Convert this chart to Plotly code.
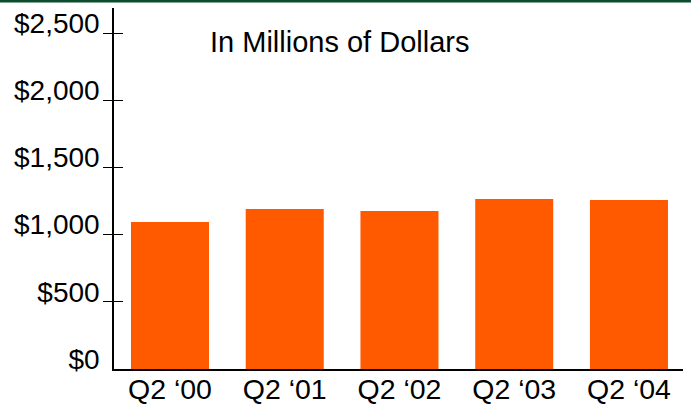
import plotly.graph_objects as go

categories = ["Q2 \u201800", "Q2 \u201801", "Q2 \u201802", "Q2 \u201803", "Q2 \u201804"]
revenue = [1094, 1190, 1176, 1265, 1257]
tick_values = [0, 500, 1000, 1500, 2000, 2500]
tick_labels = ["$0", "$500", "$1,000", "$1,500", "$2,000", "$2,500"]
mark_values = [500, 1000, 1500, 2000, 2500]

FONT = "Liberation Sans, Arial, sans-serif"
W, H = 691, 407
ML, MR, MT, MB = 114, 8, 8, 38
PW, PH = W - ML - MR, H - MT - MB
XR = [-0.488, 4.471]

fig = go.Figure()
fig.add_trace(go.Bar(x=categories, y=revenue, marker=dict(color="#FF5A00", line=dict(width=0)),
                     hoverinfo="x+y"))
fig.add_trace(go.Scatter(x=categories, y=revenue, yaxis="y2", mode="markers",
                         marker=dict(opacity=0), hoverinfo="skip", showlegend=False))
fig.add_trace(go.Scatter(x=categories, y=revenue, yaxis="y3", mode="markers",
                         marker=dict(opacity=0), hoverinfo="skip", showlegend=False))
fig.add_trace(go.Scatter(x=categories, y=revenue, xaxis="x2", mode="markers",
                         marker=dict(opacity=0), hoverinfo="skip", showlegend=False))

fig.update_layout(
    width=W, height=H,
    margin=dict(l=ML, r=MR, t=MT, b=MB, pad=0, autoexpand=False),
    paper_bgcolor="white", plot_bgcolor="white",
    showlegend=False,
    bargap=0.32,
    font=dict(family=FONT, size=28, color="black"),
    xaxis=dict(
        range=XR, showline=True, linecolor="black", linewidth=1.5,
        ticks="", showgrid=False, zeroline=False, automargin=False,
        showticklabels=False,
    ),
    # category labels on a line-less overlay axis
    xaxis2=dict(
        range=XR, overlaying="x", anchor="free", position=0, side="bottom",
        categoryorder="array", categoryarray=categories,
        showline=False, ticks="",
        showgrid=False, zeroline=False, automargin=False,
        tickfont=dict(family=FONT, size=28.5, color="black"),
    ),
    yaxis=dict(
        range=[0, 2686], showline=True, linecolor="black", linewidth=1.5,
        tickmode="array", tickvals=tick_values, ticktext=tick_labels,
        ticks="", showgrid=False, zeroline=False, automargin=False,
        ticklabelstandoff=7, ticklabelshift=-10,
        tickfont=dict(family=FONT, size=28, color="black"),
    ),
    yaxis2=dict(
        range=[0, 2686], overlaying="y", anchor="x", side="left",
        tickmode="array", tickvals=mark_values, showticklabels=False,
        ticks="outside", ticklen=10, tickwidth=1, tickcolor="black",
        showline=False, showgrid=False, zeroline=False, automargin=False,
    ),
    yaxis3=dict(
        range=[0, 2686], overlaying="y", anchor="x", side="left",
        tickmode="array", tickvals=mark_values, showticklabels=False,
        ticks="inside", ticklen=9, tickwidth=1, tickcolor="black",
        showline=False, showgrid=False, zeroline=False, automargin=False,
    ),
)

fig.add_annotation(
    text="In Millions of Dollars", xref="paper", yref="paper",
    x=(339.5 - ML) / PW, y=(H - MB - 42) / PH, xanchor="center", yanchor="middle",
    showarrow=False, font=dict(family=FONT, size=29, color="black"),
)

# dark green rule across the top
fig.add_shape(type="rect", xref="paper", yref="paper",
              x0=-ML / PW, x1=1 + MR / PW,
              y0=1 + (MT - 2.5) / PH, y1=1 + MT / PH,
              fillcolor="#0B4D2C", line=dict(width=0), layer="above")

fig.write_html("out.html", config={"displayModeBar": False},
               post_script="document.body.style.margin='0';")
